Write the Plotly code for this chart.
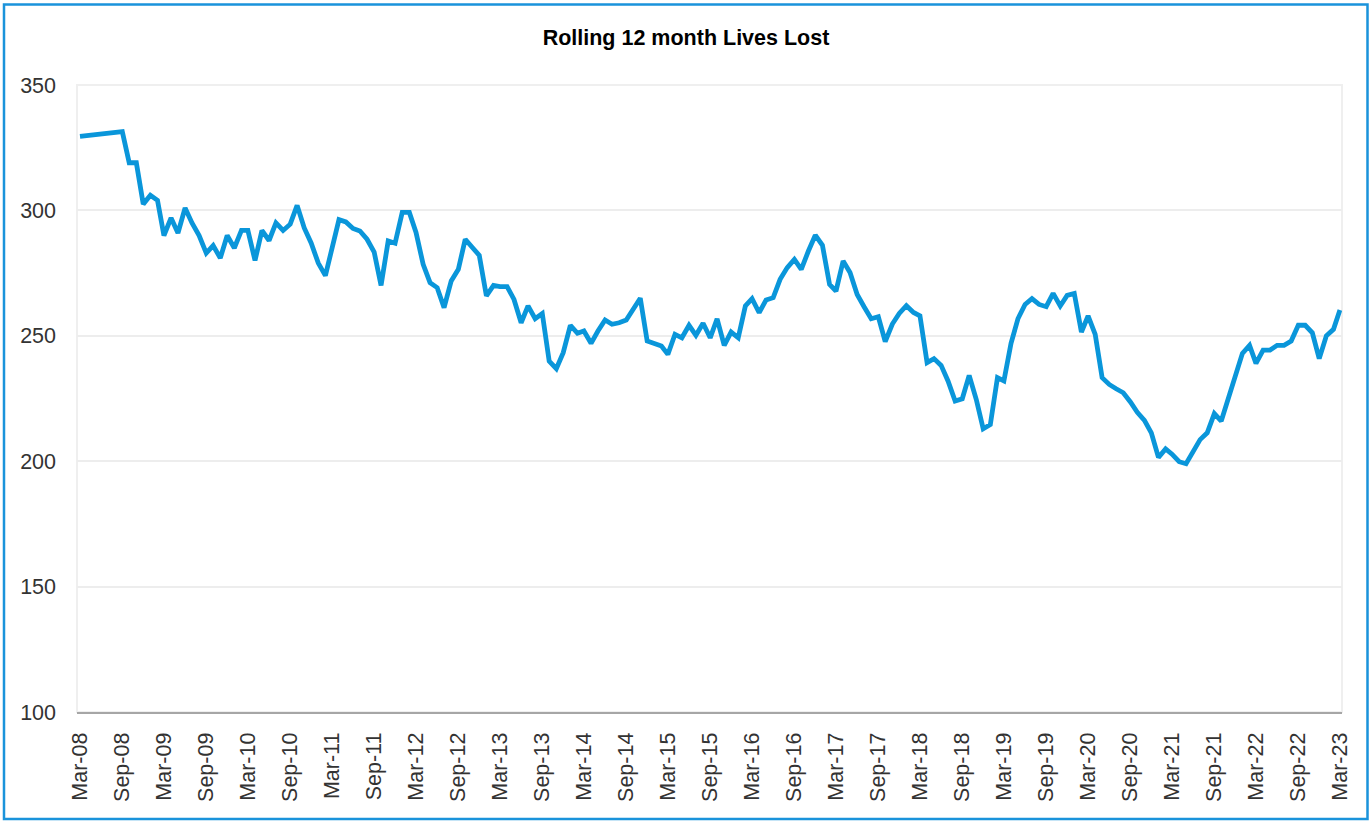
import pandas as pd
import plotly.graph_objects as go

# Dates: first point Mar-08, then monthly from Sep-08 to Mar-23
first_date = ["2008-03-01"]
monthly_dates = [d.strftime("%Y-%m-%d") for d in pd.date_range("2008-09-01", "2023-03-01", freq="MS")]
dates = first_date + monthly_dates

first_value = [329.5]
monthly_values = [
    331.4, 319.0, 319.0, 302.5, 306.0, 304.0, 290.0, 297.0, 291.0, 301.0,
    295.0, 290.0, 283.0, 286.0, 281.0, 290.0, 285.0, 292.0, 292.0, 280.0,
    292.0, 288.0, 295.0, 292.0, 294.5, 302.0, 293.0, 287.0, 279.0, 274.0,
    285.0, 296.3, 295.4, 292.8, 291.8, 288.5, 283.4, 270.1, 287.8, 286.9,
    299.2, 299.2, 291.2, 278.5, 271.2, 269.2, 261.2, 271.9, 276.5, 288.5,
    285.2, 282.1, 265.9, 270.1, 269.6, 269.6, 264.5, 255.2, 261.9, 256.8,
    258.9, 239.9, 236.9, 243.3, 254.2, 251.0, 251.9, 247.0, 251.9, 256.3,
    254.6, 255.2, 256.3, 260.2, 265.0, 247.9, 247.0, 245.9, 242.6, 250.6,
    249.2, 254.2, 250.2, 255.0, 249.2, 256.8, 246.2, 251.5, 249.2, 261.9,
    264.8, 259.2, 264.3, 265.2, 272.5, 277.2, 280.5, 276.5, 283.8, 290.1,
    286.1, 270.5, 267.8, 279.8, 275.2, 266.5, 261.6, 256.8, 257.6, 247.7,
    254.7, 258.9, 262.0, 259.3, 258.0, 239.3, 240.9, 238.2, 232.0, 224.0,
    224.9, 234.2, 224.6, 212.9, 214.6, 233.3, 232.0, 247.0, 256.8, 262.5,
    264.8, 262.5, 261.6, 266.9, 261.9, 266.1, 266.9, 251.5, 257.9, 250.6,
    233.3, 230.6, 228.9, 227.3, 223.6, 219.5, 216.3, 211.3, 201.5, 204.9,
    202.8, 199.8, 199.0, 203.6, 208.6, 211.3, 219.0, 216.0, 225.3, 234.1,
    243.0, 246.2, 239.0, 244.3, 244.3, 246.2, 246.2, 247.9, 254.2, 254.2,
    251.2, 240.9, 250.0, 252.6, 260.3,
]
values = first_value + monthly_values

title_text = "Rolling 12 month Lives Lost"
y_ticks = [100, 150, 200, 250, 300, 350]

fig = go.Figure()
fig.add_trace(go.Scatter(
    x=dates, y=values, mode="lines",
    line=dict(color="#0A96DA", width=4.8),
    hoverinfo="x+y", showlegend=False,
))

L, R, T, B = 77, 30, 85, 109
W, H = 1372, 821
pw = W - L - R
ph = H - T - B

def px_to_paper_x(px):
    return (px - L) / pw

def px_to_paper_y(py):
    return (H - B - py) / ph

shapes = [
    # plot area light border
    dict(type="rect", xref="paper", yref="paper", x0=0, x1=1, y0=0, y1=1,
         line=dict(color="#EFEFEF", width=2), layer="below"),
    # outer chart border (blue)
    dict(type="rect", xref="paper", yref="paper",
         x0=px_to_paper_x(4), x1=px_to_paper_x(1367.5),
         y0=px_to_paper_y(819), y1=px_to_paper_y(4.5),
         line=dict(color="#1A93DB", width=2.5), layer="above"),
]

fig.update_layout(
    width=W, height=H,
    margin=dict(l=L, r=R, t=T, b=B),
    paper_bgcolor="white", plot_bgcolor="white",
    title=dict(text="<b>" + title_text + "</b>", x=686 / W,
               xanchor="center", y=1 - 37 / H, yanchor="middle",
               font=dict(family="Liberation Sans, Arial, sans-serif", size=21.5, color="#000000")),
    shapes=shapes,
    font=dict(family="Liberation Sans, Arial, sans-serif", color="#333333"),
)

fig.update_xaxes(
    type="date",
    range=["2008-02-17", "2023-03-10"],
    tick0="2008-03-01", dtick="M6", tickformat="%b-%y",
    tickangle=-90,
    tickfont=dict(size=21.5, color="#333333"),
    showgrid=False, zeroline=False,
    showline=True, linecolor="#A6A6A6", linewidth=2,
    ticks="", ticklabelstandoff=10,
)
fig.update_yaxes(
    range=[100, 350], tickvals=y_ticks,
    tickfont=dict(size=21.5, color="#333333"),
    showgrid=True, gridcolor="#EDEDED", gridwidth=1.5,
    zeroline=False, showline=False,
    ticks="", ticklabelstandoff=20,
)

fig.write_html("out.html", config={"displayModeBar": False},
               post_script="document.body.style.margin='0';")
